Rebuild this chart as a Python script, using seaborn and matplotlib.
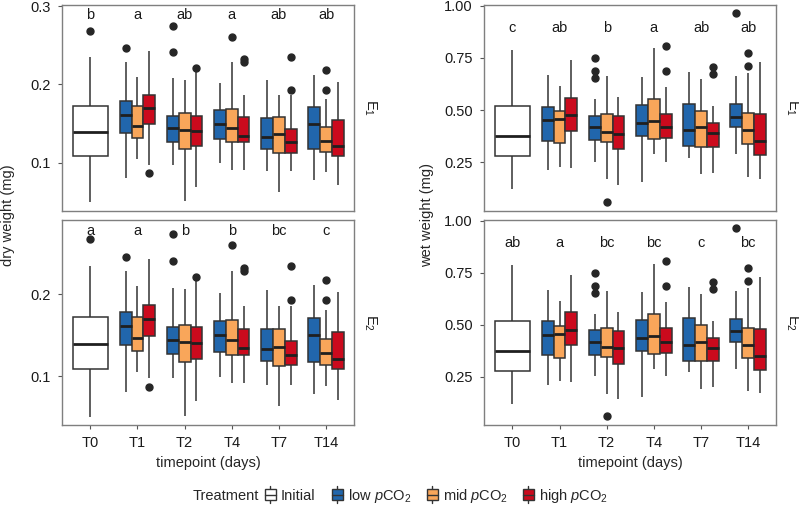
import pandas as pd
import matplotlib
matplotlib.use("Agg")
import matplotlib.pyplot as plt
import seaborn as sns
from matplotlib.patches import Patch, Rectangle
from matplotlib.lines import Line2D
from matplotlib.legend_handler import HandlerBase

timepoints = ["T0", "T1", "T2", "T4", "T7", "T14"]
later = timepoints[1:]
treatments = ["low", "mid", "high"]
colors = ["#2166ac", "#f9a65a", "#cb0a1d"]

# box summaries: lower whisker, Q1, median, Q3, upper whisker
dry_initial = [0.050, 0.109, 0.139, 0.172, 0.235]
dry_low = [[0.080, 0.138, 0.161, 0.179, 0.228],
           [0.097, 0.127, 0.144, 0.160, 0.208],
           [0.099, 0.130, 0.150, 0.167, 0.202],
           [0.089, 0.118, 0.133, 0.157, 0.205],
           [0.078, 0.117, 0.150, 0.171, 0.212]]
dry_mid = [[0.105, 0.131, 0.147, 0.172, 0.210],
           [0.051, 0.117, 0.142, 0.163, 0.206],
           [0.091, 0.126, 0.144, 0.169, 0.228],
           [0.063, 0.112, 0.136, 0.158, 0.186],
           [0.088, 0.114, 0.128, 0.145, 0.181]]
dry_high = [[0.097, 0.149, 0.170, 0.187, 0.243],
            [0.069, 0.121, 0.140, 0.160, 0.216],
            [0.091, 0.126, 0.134, 0.158, 0.186],
            [0.089, 0.113, 0.126, 0.143, 0.186],
            [0.071, 0.109, 0.121, 0.154, 0.203]]
dry_fliers = {("T0", "Initial"): [0.268], ("T1", "low"): [0.246], ("T1", "high"): [0.087],
              ("T2", "low"): [0.274, 0.241], ("T2", "high"): [0.221], ("T4", "mid"): [0.260],
              ("T4", "high"): [0.232, 0.228], ("T7", "high"): [0.235, 0.193],
              ("T14", "mid"): [0.218, 0.193]}

wet_initial = [0.122, 0.280, 0.375, 0.520, 0.786]
wet_low = [[0.213, 0.354, 0.451, 0.517, 0.667],
           [0.253, 0.357, 0.419, 0.474, 0.552],
           [0.156, 0.375, 0.439, 0.523, 0.659],
           [0.272, 0.328, 0.405, 0.531, 0.683],
           [0.288, 0.418, 0.469, 0.528, 0.664]]
wet_mid = [[0.229, 0.341, 0.456, 0.495, 0.613],
           [0.170, 0.346, 0.395, 0.483, 0.664],
           [0.290, 0.360, 0.447, 0.552, 0.795],
           [0.194, 0.325, 0.418, 0.498, 0.648],
           [0.181, 0.340, 0.405, 0.487, 0.677]]
wet_high = [[0.224, 0.402, 0.475, 0.560, 0.741],
            [0.144, 0.314, 0.387, 0.472, 0.563],
            [0.253, 0.365, 0.419, 0.483, 0.611],
            [0.200, 0.325, 0.389, 0.439, 0.520],
            [0.172, 0.284, 0.352, 0.480, 0.730]]
wet_fliers = {("T2", "low"): [0.750, 0.685, 0.652], ("T2", "mid"): [0.061],
              ("T4", "high"): [0.806, 0.688], ("T7", "high"): [0.704, 0.674],
              ("T14", "low"): [0.965], ("T14", "mid"): [0.773, 0.712]}

dry_letters_e1 = ["b", "a", "ab", "a", "ab", "ab"]
dry_letters_e2 = ["a", "a", "b", "b", "bc", "c"]
wet_letters_e1 = ["c", "ab", "b", "a", "ab", "ab"]
wet_letters_e2 = ["ab", "a", "bc", "bc", "c", "bc"]


def expand(stats, extra):
    # values whose quartiles and whiskers give back the summary
    lo, q1, med, q3, hi = stats
    return [lo] + [q1] * 10 + [med] * 10 + [q3] * 10 + [hi] + list(extra)


def build(initial, groups, fliers, name):
    rows = [("T0", "Initial", v) for v in expand(initial, fliers.get(("T0", "Initial"), []))]
    for trt, arr in zip(treatments, groups):
        for tp, stats in zip(later, arr):
            for v in expand(stats, fliers.get((tp, trt), [])):
                rows.append((tp, trt, v))
    return pd.DataFrame(rows, columns=["timepoint", "Treatment", name])


dry = build(dry_initial, [dry_low, dry_mid, dry_high], dry_fliers, "dry")
wet = build(wet_initial, [wet_low, wet_mid, wet_high], wet_fliers, "wet")

sns.set_theme(style="white")
plt.rcParams["font.family"] = ["Liberation Sans", "DejaVu Sans"]
plt.rcParams["mathtext.fontset"] = "custom"
plt.rcParams["mathtext.rm"] = "Liberation Sans"
plt.rcParams["mathtext.it"] = "Liberation Sans:italic"
plt.rcParams["mathtext.default"] = "regular"

edge = "#333333"
box_kws = dict(linecolor=edge, linewidth=1.1, fliersize=5, whis=1.5, width=0.75, saturation=1,
               medianprops=dict(color="#1f1f1f", linewidth=2.0),
               flierprops=dict(marker="o", markerfacecolor="#262626", markeredgecolor="#262626"),
               capprops=dict(linewidth=0))


def draw(ax, df, col):
    sns.boxplot(data=df[df.Treatment == "Initial"], x="timepoint", y=col, order=timepoints,
                color="white", ax=ax, **box_kws)
    sns.boxplot(data=df[df.Treatment != "Initial"], x="timepoint", y=col, hue="Treatment",
                order=timepoints, hue_order=treatments, palette=colors, dodge=True, gap=0,
                legend=False, ax=ax, **box_kws)
    ax.set_xlim(-0.6, 5.6)
    ax.set_xlabel("")
    ax.set_ylabel("")
    for s in ax.spines.values():
        s.set_visible(True)
        s.set_color("#7f7f7f")
        s.set_linewidth(1)
    ax.tick_params(axis="y", left=True, length=3, width=0.8, color="#555555", pad=5,
                   labelsize=10.5, labelcolor="#1a1a1a")


fig = plt.figure(figsize=(7.99, 5.07), dpi=100)
left_x, right_x, w = 0.0776, 0.6058, 0.366
top_y, top_h = 0.5844, 0.4063
bot_y, bot_h = 0.1617, 0.4043

ax_d1 = fig.add_axes([left_x, top_y, w, top_h])
ax_d2 = fig.add_axes([left_x, bot_y, w, bot_h])
ax_w1 = fig.add_axes([right_x, top_y, w, top_h])
ax_w2 = fig.add_axes([right_x, bot_y, w, bot_h])

for ax in (ax_d1, ax_d2):
    draw(ax, dry, "dry")
for ax in (ax_w1, ax_w2):
    draw(ax, wet, "wet")

ax_d1.set_ylim(0.0387, 0.3017)
ax_d1.set_yticks([0.1, 0.2, 0.3], ["0.1", "0.2", "0.3"])
ax_d2.set_ylim(0.040, 0.291)
ax_d2.set_yticks([0.1, 0.2], ["0.1", "0.2"])
for ax in (ax_w1, ax_w2):
    ax.set_ylim(0.019, 1.004)
    ax.set_yticks([0.25, 0.5, 0.75, 1.0], ["0.25", "0.50", "0.75", "1.00"])

for ax in (ax_d1, ax_w1):
    ax.tick_params(axis="x", bottom=False, labelbottom=False)
for ax in (ax_d2, ax_w2):
    ax.tick_params(axis="x", bottom=True, length=3, width=0.8, color="#555555", pad=5,
                   labelsize=10.5, labelcolor="#1a1a1a")

for ax, letters, y in [(ax_d1, dry_letters_e1, 0.2885), (ax_d2, dry_letters_e2, 0.278),
                       (ax_w1, wet_letters_e1, 0.893), (ax_w2, wet_letters_e2, 0.892)]:
    for i, t in enumerate(letters):
        ax.text(i, y, t, ha="center", va="center", fontsize=10.5, color="#1a1a1a")

for ax, lab in [(ax_d1, "E$_1$"), (ax_d2, "E$_2$"), (ax_w1, "E$_1$"), (ax_w2, "E$_2$")]:
    ax.text(1.025, 0.5, lab, transform=ax.transAxes, rotation=-90, ha="left", va="center",
            fontsize=10.5, color="#1a1a1a")

fig.text(0.010, 0.576, "dry weight (mg)", rotation=90, ha="center", va="center", fontsize=10.5)
fig.text(0.534, 0.576, "wet weight (mg)", rotation=90, ha="center", va="center", fontsize=10.5)
fig.text(0.2603, 0.087, "timepoint (days)", ha="center", va="center", fontsize=10.5)
fig.text(0.789, 0.087, "timepoint (days)", ha="center", va="center", fontsize=10.5)
fig.text(0.2829, 0.0223, "Treatment", ha="center", va="center", fontsize=10.5)


class BoxKey(HandlerBase):
    def create_artists(self, legend, orig_handle, xdescent, ydescent, width, height, fontsize, trans):
        x0, y0 = -xdescent, -ydescent
        cx, cy = x0 + width / 2, y0 + height / 2
        whisk = Line2D([cx, cx], [y0 - 0.32 * height, y0 + 1.32 * height], color=edge, lw=1.0,
                       transform=trans)
        rect = Rectangle((x0, y0), width, height, facecolor=orig_handle.get_facecolor(),
                         edgecolor=edge, lw=1.0, transform=trans)
        med = Line2D([x0, x0 + width], [cy, cy], color=edge, lw=1.0, transform=trans)
        return [whisk, rect, med]


labels = ["Initial", r"low $\mathit{p}$CO$_2$", r"mid $\mathit{p}$CO$_2$", r"high $\mathit{p}$CO$_2$"]
key_left = [265, 332, 427, 523]  # pixel position of each legend key
for c, l, px in zip(["white"] + colors, labels, key_left):
    fig.legend(handles=[Patch(facecolor=c, label=l)], handler_map={Patch: BoxKey()},
               loc="center left", bbox_to_anchor=(px / 799, 0.0223), frameon=False,
               fontsize=10.5, handlelength=0.75, handleheight=0.75, handletextpad=0.35,
               borderpad=0, borderaxespad=0)

fig.savefig("out.png", dpi=100)
